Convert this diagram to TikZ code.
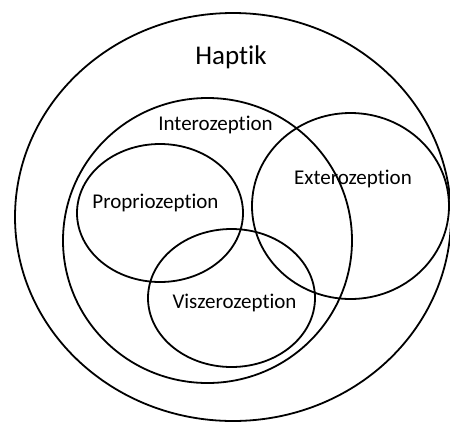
\documentclass[tikz,border=0pt]{standalone}
\usepackage{fontspec}
\setmainfont{Carlito}[Ligatures={NoCommon,NoRequired,NoContextual}]
\usetikzlibrary{shapes.geometric}
\tikzstyle{set} = [draw,shape=ellipse,line width=1.8pt,inner sep=0pt]
\tikzstyle{setlabel} = [inner sep=0pt,font=\fontsize{21}{25}\selectfont]

\begin{document}
\begin{tikzpicture}[x=1pt,y=-1pt]
\useasboundingbox (0,0) rectangle (450,421);

\node[set,minimum width=436pt,minimum height=408pt] (haptik) at (233,217) {};
\node[set,minimum width=289pt,minimum height=285pt] (intero) at (207.5,240.5) {};
\node[set,minimum width=197pt,minimum height=186pt] (extero) at (350.5,206) {};
\node[set,minimum width=166pt,minimum height=138pt] (proprio) at (160,213) {};
\node[set,minimum width=167pt,minimum height=138pt] (viszero) at (231.5,298) {};

\node[setlabel,font=\fontsize{27}{32}\selectfont] (lhaptik) at (231,57) {Haptik};
\node[setlabel] (lintero)  at (215.5,125) {Interozeption};
\node[setlabel] (lextero)  at (353,179)   {Exterozeption};
\node[setlabel] (lproprio) at (155.5,203) {Propriozeption};
\node[setlabel] (lviszero) at (234.5,303) {Viszerozeption};
\end{tikzpicture}
\end{document}
